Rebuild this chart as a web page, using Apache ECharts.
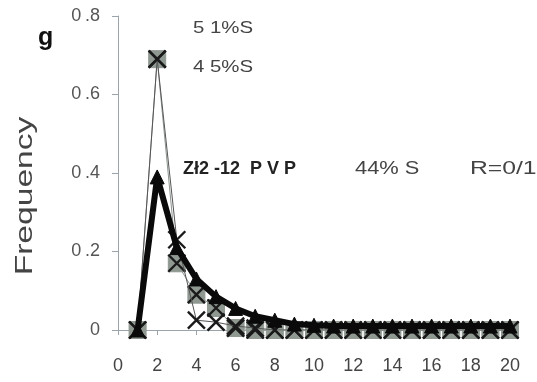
<!DOCTYPE html>
<html><head><meta charset="utf-8">
<script src="https://cdn.jsdelivr.net/npm/echarts@6/dist/echarts.min.js"></script>
<style>html,body{margin:0;padding:0;background:#fff}#c{width:537px;height:382px}</style>
</head><body><div id="c"></div>
<script>
var xValues = [1,2,3,4,5,6,7,8,9,10,11,12,13,14,15,16,17,18,19,20];
var s51 = [0,0.69,0.23,0.025,0.02,0.01,0.005,0,0,0,0,0,0,0,0,0,0,0,0,0];
var s45 = [0,0.69,0.17,0.09,0.056,0.005,0,0,0,0,0,0,0,0,0,0,0,0,0,0];
var s44 = [0,0.39,0.21,0.13,0.085,0.055,0.035,0.025,0.015,0.012,0.01,0.01,0.01,0.01,0.01,0.01,0.01,0.01,0.01,0.01];
var xTicks = [0,2,4,6,8,10,12,14,16,18,20];
var yTicks = ['0','0.2','0.4','0.6','0.8'];

function pairs(a){return xValues.map(function(x,i){return [x,a[i]];});}
var XSYM = 'path://M0,0L10,10M10,0L0,10';
var chart = echarts.init(document.getElementById('c'));
var font = 'Liberation Sans, Arial, sans-serif';
chart.setOption({
  animation:false,
  grid:{left:118,right:27,top:16,bottom:52},
  xAxis:{type:'value',min:0,max:20,interval:2,
    axisLine:{show:true,onZero:false,lineStyle:{color:'#9aa4aa',width:1}},
    axisTick:{show:true,length:5,lineStyle:{color:'#9aa4aa'}},
    splitLine:{show:false},
    axisLabel:{color:'#444',fontFamily:font,fontSize:18,margin:27}},
  yAxis:{type:'value',min:0,max:0.8,interval:0.2,
    axisLine:{show:true,lineStyle:{color:'#9aa4aa',width:1}},
    axisTick:{show:true,length:6,lineStyle:{color:'#9aa4aa'}},
    splitLine:{show:false},
    axisLabel:{color:'#555',fontFamily:font,fontSize:18,margin:18,
      formatter:function(v){var t=yTicks[Math.round(v/0.2)];return t.replace('.','\u2009.');}}},
  series:[
    {name:'45%S',type:'line',data:pairs(s45),symbol:'rect',symbolSize:17,
      lineStyle:{color:'#8c948e',width:1},itemStyle:{color:'#8f9891',borderColor:'#8f9891'},z:2},
    {name:'45%S-x',type:'line',data:pairs(s45),symbol:XSYM,symbolSize:17,
      lineStyle:{width:0,opacity:0},itemStyle:{color:'transparent',borderColor:'#1a1a1a',borderWidth:2.4},z:3},
    {name:'51%S',type:'line',data:pairs(s51),symbol:XSYM,symbolSize:17,
      lineStyle:{color:'#555',width:1},itemStyle:{color:'transparent',borderColor:'#1a1a1a',borderWidth:2.4},z:4},
    {name:'44% S',type:'line',data:pairs(s44),symbol:'triangle',symbolSize:14,
      lineStyle:{color:'#0a0a0a',width:6},itemStyle:{color:'#0a0a0a',borderColor:'#0a0a0a'},z:5}
  ],
  graphic:[
    {type:'text',x:38,y:26,style:{text:'g',font:'bold 25px '+font,fill:'#111'}},
    {type:'text',x:25,y:196,rotation:Math.PI/2,scaleX:1.4,style:{text:'Frequency',font:'24px '+font,fill:'#444',align:'center',verticalAlign:'middle'}},
    {type:'text',x:193,y:20,scaleX:1.2,style:{text:'5 1%S',font:'17px '+font,fill:'#444'}},
    {type:'text',x:193,y:59,scaleX:1.2,style:{text:'4 5%S',font:'17px '+font,fill:'#444'}},
    {type:'text',x:183,y:160,scaleX:1.0,style:{text:'Zł2 -12  P V P',font:'bold 18px '+font,fill:'#222'}},
    {type:'text',x:355,y:159,scaleX:1.15,style:{text:'44% S',font:'19px '+font,fill:'#444'}},
    {type:'text',x:470,y:159,scaleX:1.3,style:{text:'R=0/1',font:'19px '+font,fill:'#444'}}
  ]
});
</script></body></html>
